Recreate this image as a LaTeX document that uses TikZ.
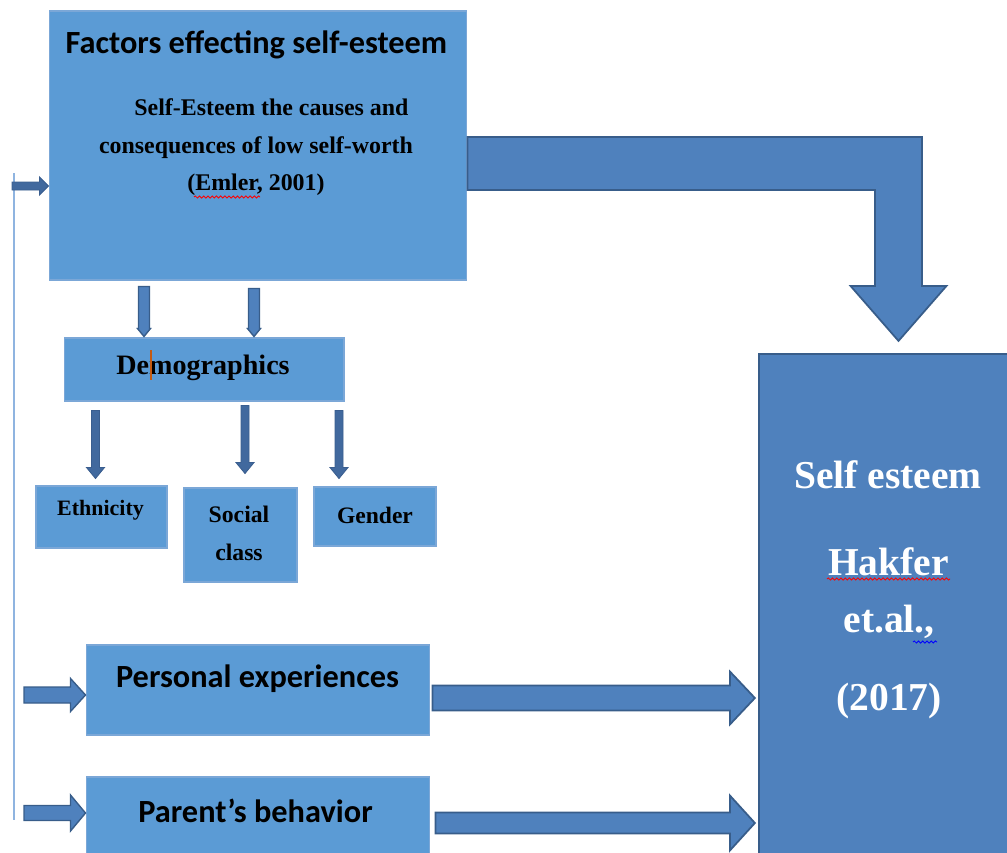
\documentclass[tikz,border=0pt]{standalone}
\usepackage{fontspec}
\setmainfont{Liberation Serif}
\newfontfamily\calfont{Carlito}
\usetikzlibrary{calc,decorations.pathmorphing}

\definecolor{lightfill}{HTML}{5B9BD5}
\definecolor{lightdraw}{HTML}{7BA7D7}
\definecolor{darkfill}{HTML}{4F81BD}
\definecolor{darkdraw}{HTML}{385D8A}
\definecolor{arrowfill}{HTML}{41699E}
\definecolor{arrowdraw}{HTML}{3A5E8F}
\definecolor{feedline}{HTML}{8FB4E0}
\definecolor{cursor}{HTML}{C55A11}

% rightward block arrow: #1 start, #2 tip, #3 shaft half-width, #4 head half-width, #5 head length, #6 style
\newcommand\harrow[6]{%
  \coordinate (hb) at ($(#2)+(-#5,0)$);
  \draw[#6] ($(#1)+(0,-#3)$) -- ($(hb)+(0,-#3)$) -- ($(hb)+(0,-#4)$) -- (#2)
    -- ($(hb)+(0,#4)$) -- ($(hb)+(0,#3)$) -- ($(#1)+(0,#3)$) -- cycle;}
% downward block arrow, same arguments
\newcommand\varrow[6]{%
  \coordinate (vb) at ($(#2)+(0,-#5)$);
  \draw[#6] ($(#1)+(-#3,0)$) -- ($(vb)+(-#3,0)$) -- ($(vb)+(-#4,0)$) -- (#2)
    -- ($(vb)+(#4,0)$) -- ($(vb)+(#3,0)$) -- ($(#1)+(#3,0)$) -- cycle;}

\begin{document}
\begin{tikzpicture}[x=0.02cm,y=-0.02cm,
  lbox/.style={draw=lightdraw,fill=lightfill,line width=0.6pt,inner sep=0pt,rectangle},
  dbox/.style={draw=darkdraw,fill=darkfill,line width=1.3pt,inner sep=0pt,rectangle},
  bigarrow/.style={fill=darkfill,draw=darkdraw,line width=1pt,line join=miter},
  midarrow/.style={fill=darkfill,draw=darkdraw,line width=0.8pt,line join=miter},
  smallarrow/.style={fill=arrowfill,draw=arrowdraw,line width=0.5pt,line join=miter},
  caltxt/.style={inner sep=0pt,align=center,font=\calfont\bfseries\fontsize{18.4}{21}\selectfont},
  sertxt/.style={inner sep=0pt,align=center,font=\bfseries\fontsize{#1}{21.3}\selectfont},
  setxt/.style={inner sep=0pt,text=white,font=\bfseries\fontsize{22.5}{26}\selectfont},
  squiggle/.style={line width=0.5pt,decorate,decoration={snake,amplitude=0.6pt,segment length=2.4pt}}]
\useasboundingbox (0,0) rectangle (1007,852);
\clip (0,0) rectangle (1007,852);

% feedback line on the left
\coordinate (ltop) at (14,173);
\coordinate (lbot) at (14,820);
\draw[feedline,line width=0.9pt] (ltop) -- (lbot);

% boxes
\node[lbox,minimum width=8.36cm,minimum height=5.38cm] (fac) at (258,145.5) {};
\node[lbox,minimum width=5.6cm,minimum height=1.26cm] (demo) at (204,369.5) {};
\node[lbox,minimum width=2.62cm,minimum height=1.24cm] (eth) at (101.5,517) {};
\node[lbox,minimum width=2.26cm,minimum height=1.88cm] (soc) at (240.5,535) {};
\node[lbox,minimum width=2.44cm,minimum height=1.18cm] (gen) at (375,516.5) {};
\node[lbox,minimum width=6.88cm,minimum height=1.8cm] (pe) at (258,690) {};
\node[lbox,minimum width=6.88cm,minimum height=1.86cm] (pb) at (258,823.5) {};
\node[dbox,minimum width=5.42cm,minimum height=10.52cm] (se) at (894.5,617) {};

% texts
\node[caltxt] (factitle) at (256.5,45) {Factors effecting self-esteem};
\node[sertxt=13.6] (facsub) at (256,147.5)
  {\hspace*{17.6pt}Self-Esteem the causes and\\consequences of low self-worth\\(Emler, 2001)};
\draw[red,squiggle] (194,197) -- (260,197);
\node[sertxt=16] (demotxt) at (203,368) {Demographics};
\draw[cursor,line width=0.7pt] (151,350) -- (151,380);
\node[sertxt=12.5] (ethtxt) at (100.5,510) {Ethnicity};
\node[sertxt=13.5] (soctxt) at (239,533.5) {Social\\class};
\node[sertxt=13.4] (gentxt) at (375,515) {Gender};
\node[caltxt] (petxt) at (257.5,679) {Personal experiences};
\node[caltxt] (pbtxt) at (255.5,811) {Parent’s behavior};
\node[setxt] (se1) at (888,475) {Self esteem};
\node[setxt] (se2) at (888.5,562) {Hakfer};
\node[setxt] (se3) at (889,622) {et.al.,};
\node[setxt] (se4) at (889,701) {(2017)};
\draw[red,squiggle] (827,579) -- (950,579);
\draw[blue,squiggle] (913,642) -- (937,642);

% arrow into the factors box from the feedback line
\coordinate (fa0) at (12,186);
\coordinate (fa1) at (fac.west |- fa0);
\harrow{fa0}{fa1}{4}{9}{9}{smallarrow}

% arrows into personal experiences and parent's behaviour
\coordinate (pa0) at (24,695);
\coordinate (pa1) at (pe.west |- pa0);
\harrow{pa0}{pa1}{8}{16.5}{15}{midarrow}
\coordinate (qa0) at (24,813);
\coordinate (qa1) at (pb.west |- qa0);
\harrow{qa0}{qa1}{7.5}{18}{15}{midarrow}

% arrows towards self esteem
\coordinate (pr0) at ($(pe.east)+(2,8)$);
\coordinate (pr1) at ($(se.west |- pr0)+(-3,0)$);
\harrow{pr0}{pr1}{12.5}{26.5}{25}{bigarrow}
\coordinate (qr0) at ($(pb.east)+(5,-0.5)$);
\coordinate (qr1) at ($(se.west |- qr0)+(-3,0)$);
\harrow{qr0}{qr1}{10.5}{27.5}{25}{bigarrow}

% factors -> demographics
\coordinate (f1s) at ($(fac.south)+(-114,6)$);
\coordinate (f1t) at ($(f1s |- demo.north)+(0,-1)$);
\varrow{f1s}{f1t}{5.5}{6.5}{8}{midarrow}
\coordinate (f2s) at ($(fac.south)+(-4,8)$);
\coordinate (f2t) at ($(f2s |- demo.north)+(0,-1)$);
\varrow{f2s}{f2t}{5.5}{6.5}{8}{midarrow}

% demographics -> ethnicity, social class, gender
\coordinate (d1s) at ($(demo.south west)+(32,9)$);
\coordinate (d1t) at ($(d1s |- eth.north)+(0,-7)$);
\varrow{d1s}{d1t}{4}{9}{11}{smallarrow}
\coordinate (d2s) at ($(demo.south)+(41,4)$);
\coordinate (d2t) at ($(d2s |- soc.north)+(0,-14)$);
\varrow{d2s}{d2t}{4}{9}{11}{smallarrow}
\coordinate (d3s) at ($(demo.south east)+(-5.5,9)$);
\coordinate (d3t) at ($(d3s |- gen.north)+(0,-8)$);
\varrow{d3s}{d3t}{4}{9}{11}{smallarrow}

% bent arrow from factors down to self esteem
\coordinate (bs) at ($(fac.east)+(0,18)$);
\coordinate (bt) at ($(se.north)+(4,-12)$);
\coordinate (bc) at (bt |- bs);
\draw[bigarrow] ($(bs)+(0,-26.5)$) -- ($(bc)+(23.5,-26.5)$) -- ($(bt)+(23.5,-55)$)
  -- ($(bt)+(48,-55)$) -- (bt) -- ($(bt)+(-48,-55)$) -- ($(bt)+(-23.5,-55)$)
  -- ($(bc)+(-23.5,26.5)$) -- ($(bs)+(0,26.5)$) -- cycle;
\end{tikzpicture}
\end{document}
